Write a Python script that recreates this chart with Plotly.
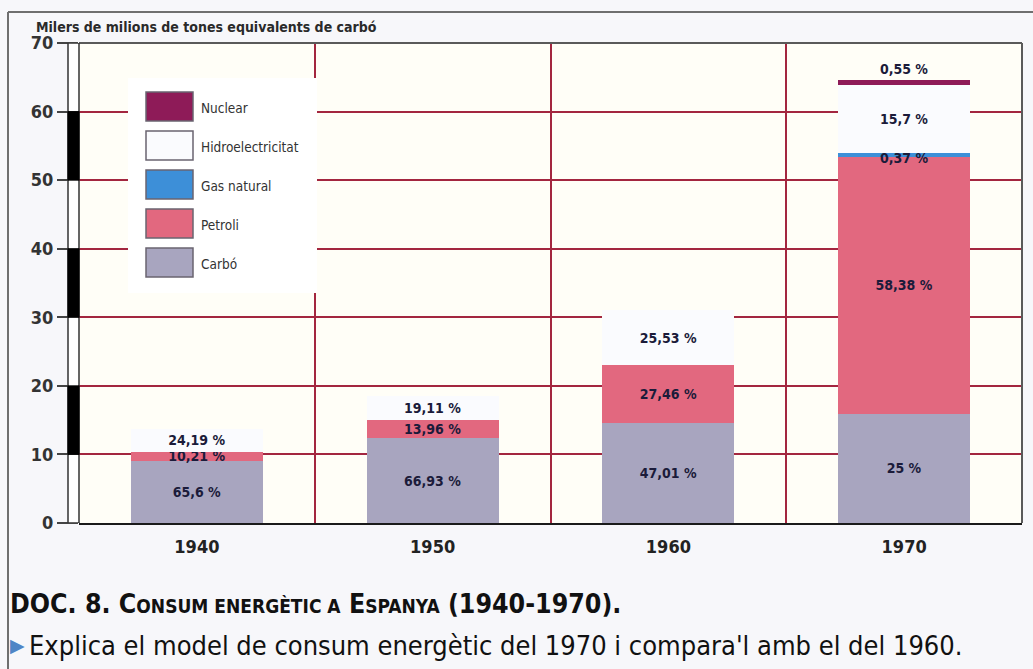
import plotly.graph_objects as go

# ---------------- data ----------------
years = ["1940", "1950", "1960", "1970"]
carbo = [9.0, 12.35, 14.6, 15.9]
petroli = [1.4, 2.6, 8.5, 37.5]
gas_natural = [0, 0, 0, 0.6]
hidro = [3.3, 3.5, 7.9, 9.9]
nuclear = [0, 0, 0, 0.7]

carbo_pct = ["65,6 %", "66,93 %", "47,01 %", "25 %"]
petroli_pct = ["10,21 %", "13,96 %", "27,46 %", "58,38 %"]
gas_pct = ["", "", "", "0,37 %"]
hidro_pct = ["24,19 %", "19,11 %", "25,53 %", "15,7 %"]
nuclear_pct = ["", "", "", "0,55 %"]

y_tick_values = [0, 10, 20, 30, 40, 50, 60, 70]
y_title = "Milers de milions de tones equivalents de carbó"
caption_1 = ("DOC. 8. C<span style='font-size:19px'>ONSUM ENERGÈTIC A</span> "
             "E<span style='font-size:19px'>SPANYA</span> (1940-1970).")
caption_2 = "Explica el model de consum energètic del 1970 i compara'l amb el del 1960."

# ---------------- style ----------------
W, H = 1033, 669
ML, MR, MT, MB = 79, 11, 43, 146
PW, PH = W - ML - MR, H - MT - MB

C_NUCLEAR = "#8e1b58"
C_HIDRO = "#fafbfe"
C_GAS = "#3d8fd8"
C_PETROLI = "#e2687f"
C_CARBO = "#a8a5bf"
GRID = "#a3263f"
COND = "DejaVu Sans Condensed"
LABEL_FONT = dict(family=COND, size=14, color="#1b1b3a", weight="bold")


def px_x(px):
    return (px - ML) / PW


def px_y(py):
    return (H - MB - py) / PH


x_pos = list(range(len(years)))

series = [
    ("Carbó", carbo, carbo_pct, C_CARBO, "inside"),
    ("Petroli", petroli, petroli_pct, C_PETROLI, "inside"),
    ("Gas natural", gas_natural, ["" for _ in gas_pct], C_GAS, "inside"),
    ("Hidroelectricitat", hidro, hidro_pct, C_HIDRO, "inside"),
    ("Nuclear", nuclear, nuclear_pct, C_NUCLEAR, "outside"),
]

fig = go.Figure()
for name, vals, txt, col, pos in series:
    fig.add_trace(go.Bar(
        x=x_pos, y=vals, name=name, text=txt, textposition=pos,
        insidetextanchor="middle", textangle=0, textfont=LABEL_FONT,
        outsidetextfont=LABEL_FONT,
        marker=dict(color=col, line=dict(width=0)),
        width=0.56, showlegend=False, cliponaxis=False,
        hoverinfo="name+y",
    ))

shapes = []
annotations = []

# gas natural label drawn on top of the stack (thin segment)
for i, t in enumerate(gas_pct):
    if t:
        annotations.append(dict(
            x=x_pos[i], y=carbo[i] + petroli[i] + gas_natural[i] / 2, xref="x", yref="y",
            text=t, showarrow=False, yshift=-3, font=LABEL_FONT))

# frame of the page (top and left grey lines)
shapes.append(dict(type="line", xref="paper", yref="paper",
                   x0=px_x(8), x1=px_x(W + 5), y0=px_y(12), y1=px_y(12),
                   line=dict(color="#6f6f6f", width=2), layer="above"))
shapes.append(dict(type="line", xref="paper", yref="paper",
                   x0=px_x(8), x1=px_x(8), y0=px_y(12), y1=px_y(H + 5),
                   line=dict(color="#6f6f6f", width=2), layer="above"))

# top and right frame of the plot area
shapes.append(dict(type="line", xref="paper", yref="paper", x0=0, x1=1, y0=1, y1=1,
                   line=dict(color="#5a5a5a", width=2), layer="above"))
shapes.append(dict(type="line", xref="paper", yref="paper", x0=1, x1=1, y0=0, y1=1,
                   line=dict(color="#5a5a5a", width=2), layer="above"))

# alternating scale bar along the y axis
shapes.append(dict(type="rect", xref="paper", yref="y", x0=px_x(68), x1=0,
                   y0=y_tick_values[0], y1=y_tick_values[-1],
                   fillcolor="white", line=dict(color="#333333", width=1.5), layer="above"))
for i in range(1, len(y_tick_values) - 1, 2):
    shapes.append(dict(type="rect", xref="paper", yref="y", x0=px_x(68), x1=0,
                       y0=y_tick_values[i], y1=y_tick_values[i + 1],
                       fillcolor="black", line=dict(color="black", width=1), layer="above"))

# custom legend
legend_items = [(n, c) for n, _, _, c, _ in series][::-1]
shapes.append(dict(type="rect", xref="paper", yref="paper",
                   x0=px_x(128), x1=px_x(317), y0=px_y(293), y1=px_y(78),
                   fillcolor="white", line=dict(width=0), layer="above"))
row_top = 92
row_step = 39
for k, (name, col) in enumerate(legend_items):
    top = row_top + k * row_step
    shapes.append(dict(type="rect", xref="paper", yref="paper",
                       x0=px_x(146), x1=px_x(193), y0=px_y(top + 29), y1=px_y(top),
                       fillcolor=col, line=dict(color="#6a6470", width=1.5), layer="above"))
    annotations.append(dict(xref="paper", yref="paper", x=px_x(199), y=px_y(top + 16),
                            text=name, showarrow=False, xanchor="left", yanchor="middle",
                            font=dict(family=COND, size=13.5, color="#333333")))

# y axis title
annotations.append(dict(xref="paper", yref="paper", x=px_x(34), y=px_y(27),
                        text=y_title, showarrow=False, xanchor="left", yanchor="middle",
                        font=dict(family=COND, size=14, color="#2a2a2a", weight="bold")))

# captions
annotations.append(dict(xref="paper", yref="paper", x=px_x(8), y=px_y(603),
                        text=caption_1, showarrow=False, xanchor="left", yanchor="middle",
                        font=dict(family=COND, size=26.5, color="#111111", weight="bold")))
annotations.append(dict(xref="paper", yref="paper", x=px_x(8), y=px_y(645),
                        text="▶", showarrow=False, xanchor="left", yanchor="middle",
                        font=dict(family="DejaVu Sans", size=19, color="#4f86c6")))
annotations.append(dict(xref="paper", yref="paper", x=px_x(27), y=px_y(645),
                        text=caption_2, showarrow=False, xanchor="left", yanchor="middle",
                        font=dict(family=COND, size=27, color="#111111")))

fig.update_layout(
    width=W, height=H,
    margin=dict(l=ML, r=MR, t=MT, b=MB, pad=0),
    barmode="stack",
    paper_bgcolor="#f7f7fa",
    plot_bgcolor="#fffef7",
    showlegend=False,
    uniformtext=dict(minsize=14, mode="show"),
    shapes=shapes,
    annotations=annotations,
    xaxis=dict(
        range=[-0.5, 3.5], tickvals=x_pos, ticktext=years, showgrid=False,
        showline=True, linecolor="#1a1a1a", linewidth=2, ticks="",
        ticklabelstandoff=6,
        tickfont=dict(family=COND, size=18, color="#222222", weight="bold"),
        minor=dict(tickvals=[p + 0.5 for p in x_pos[:-1]], showgrid=True,
                   gridcolor=GRID, gridwidth=1.5, ticks=""),
        zeroline=False, fixedrange=True,
    ),
    yaxis=dict(
        range=[0, 70], tickvals=y_tick_values, showgrid=True, gridcolor=GRID,
        gridwidth=2, zeroline=False, ticks="outside", ticklen=21, tickwidth=1.5,
        tickcolor="#444444", showline=False,
        tickfont=dict(family=COND, size=18, color="#333333", weight="bold"),
        fixedrange=True,
    ),
)

fig.write_html("out.html", config={"displayModeBar": False},
               post_script="document.body.style.margin='0';")
